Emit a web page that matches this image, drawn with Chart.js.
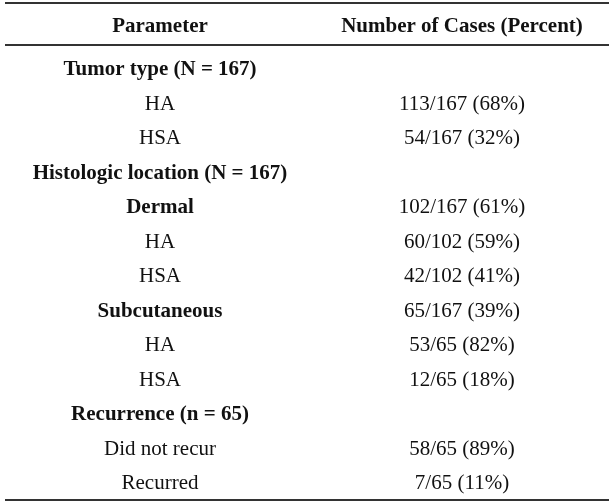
<!DOCTYPE html>
<html>
<head>
<meta charset="utf-8">
<script src="https://cdn.jsdelivr.net/npm/chart.js@4.4.0/dist/chart.umd.min.js"></script>
<style>
  html, body { margin: 0; padding: 0; background: #fff; }
  #wrap { width: 613px; height: 504px; }
</style>
</head>
<body>
<div id="wrap"><canvas id="tabla"></canvas></div>
<script>
// ===== Datos de la tabla =====
const headers = ["Parameter", "Number of Cases (Percent)"];
const paramLabels = [
  "Tumor type (N = 167)", "HA", "HSA",
  "Histologic location (N = 167)", "Dermal", "HA", "HSA",
  "Subcutaneous", "HA", "HSA",
  "Recurrence (n = 65)", "Did not recur", "Recurred"
];
const boldRows = [true, false, false, true, true, false, false, true, false, false, true, false, false];
const caseCounts = [null, 113, 54, null, 102, 60, 42, 65, 53, 12, null, 58, 7];
const caseTotals = [null, 167, 167, null, 167, 102, 102, 167, 65, 65, null, 65, 65];
const casePercents = [null, 68, 32, null, 61, 59, 41, 39, 82, 18, null, 89, 11];

const FONT = '"Liberation Serif", "Times New Roman", serif';
const HEADER_ROW = -1.25;
const RULES = [-1.884, -0.667, 12.52];
const BASE_SHIFT = 7.5; // de centro visual a línea base

const cellTexts = caseCounts.map((c, i) =>
  c === null ? "" : c + "/" + caseTotals[i] + " (" + casePercents[i] + "%)"
);

// plugin que pinta los textos de cada celda y las líneas
const tablaPlugin = {
  id: "tabla",
  afterDatasetsDraw(chart) {
    const { ctx, chartArea, scales } = chart;
    ctx.save();
    ctx.fillStyle = "#111";
    ctx.textAlign = "center";
    ctx.textBaseline = "alphabetic";

    // encabezado
    ctx.font = "bold 21px " + FONT;
    headers.forEach((h, col) => {
      ctx.fillText(h, scales.x.getPixelForValue(col), scales.y.getPixelForValue(HEADER_ROW) + 7);
    });

    // celdas
    chart.data.datasets.forEach((ds, di) => {
      const meta = chart.getDatasetMeta(di);
      meta.data.forEach((pt, i) => {
        const raw = ds.data[i];
        ctx.font = (raw.bold ? "bold " : "") + "21px " + FONT;
        ctx.fillText(raw.text, pt.x, pt.y + BASE_SHIFT);
      });
    });

    // líneas horizontales
    ctx.strokeStyle = "#333";
    ctx.lineWidth = 2;
    RULES.forEach(r => {
      const y = Math.round(scales.y.getPixelForValue(r));
      ctx.beginPath();
      ctx.moveTo(chartArea.left - 4, y);
      ctx.lineTo(chartArea.right - 4, y);
      ctx.stroke();
    });
    ctx.restore();
  }
};

new Chart(document.getElementById("tabla"), {
  type: "scatter",
  data: {
    datasets: [
      {
        label: headers[0],
        data: paramLabels.map((t, i) => ({ x: 0, y: i, text: t, bold: boldRows[i] })),
        pointRadius: 0
      },
      {
        label: headers[1],
        data: cellTexts
          .map((t, i) => ({ x: 1, y: i, text: t, bold: false }))
          .filter(d => d.text !== ""),
        pointRadius: 0
      }
    ]
  },
  options: {
    responsive: true,
    maintainAspectRatio: false,
    animation: false,
    layout: { padding: { left: 9, right: 0, top: 0, bottom: 0 } },
    plugins: { legend: { display: false }, tooltip: { enabled: false } },
    scales: {
      x: { type: "linear", min: -0.5, max: 1.5, display: false },
      y: { type: "linear", min: -1.971, max: 12.638, reverse: true, display: false }
    }
  },
  plugins: [tablaPlugin]
});
</script>
</body>
</html>
